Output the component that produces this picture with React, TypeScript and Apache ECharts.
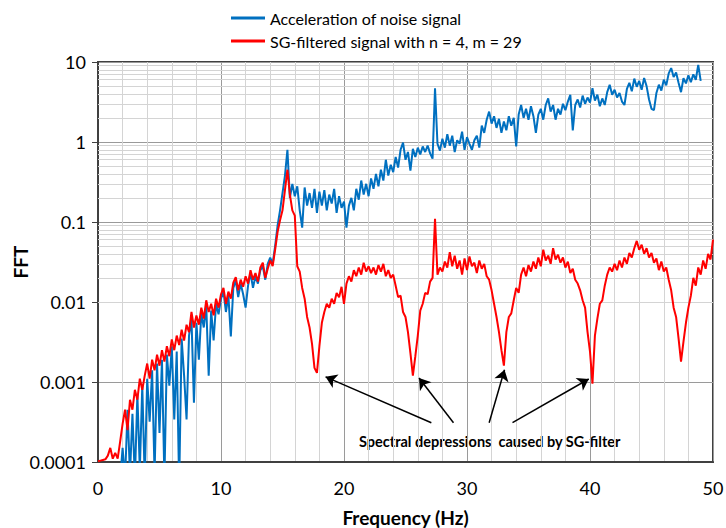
import React, { useEffect, useRef } from 'react';
import * as echarts from 'echarts';

const SERIES_NAMES = ['Acceleration of noise signal', 'SG-filtered signal with n = 4, m = 29'];
const SERIES_COLORS = ['#0070C0', '#FF0000'];
const FREQ_STEP = 0.2;

// Blue: acceleration of noise signal, bins from 1.8 Hz to 49.0 Hz (0.2 Hz apart)
const BLUE_START = 1.8;
const BLUE_FFT = [
  0.00006, 0.00015, 0.00006, 0.00045, 0.00007, 0.0004, 0.00006, 0.0007, 0.00008, 0.0009, 0.00006,
  0.0011, 0.00032, 0.0014, 0.00007, 0.0017, 0.00023, 0.0019, 0.00006, 0.0022, 0.0009,
  0.0028, 0.00034, 0.0024, 0.00005, 0.0035, 0.0012, 0.00034, 0.0038, 0.0062, 0.00055,
  0.0055, 0.0019, 0.0072, 0.0048, 0.009, 0.0012, 0.0078, 0.0033, 0.0095, 0.007,
  0.011, 0.0135, 0.0075, 0.012, 0.0037, 0.015, 0.0185, 0.0115, 0.017, 0.0125,
  0.0085, 0.016, 0.023, 0.015, 0.021, 0.017, 0.025, 0.028, 0.019, 0.03,
  0.036, 0.03, 0.05, 0.09, 0.14, 0.23, 0.38, 0.8, 0.2, 0.3,
  0.21, 0.28, 0.14, 0.085, 0.27, 0.16, 0.23, 0.15, 0.26, 0.13,
  0.24, 0.16, 0.25, 0.14, 0.22, 0.17, 0.26, 0.13, 0.21, 0.15,
  0.18, 0.085, 0.16, 0.2, 0.14, 0.26, 0.19, 0.33, 0.22, 0.3,
  0.21, 0.35, 0.26, 0.4, 0.28, 0.45, 0.33, 0.6, 0.38, 0.52,
  0.42, 0.65, 0.48, 0.8, 0.98, 0.6, 0.75, 0.44, 0.82, 0.65,
  0.85, 0.7, 0.88, 0.75, 0.9, 0.72, 0.62, 4.7, 0.95, 0.78,
  1.1, 0.85, 1.25, 0.9, 1.2, 0.75, 1.05, 0.95, 1.35, 0.8,
  1.15, 0.95, 0.8, 1.05, 1.2, 0.85, 1.6, 1.3, 1.9, 2.4,
  1.7, 2.1, 1.5, 1.95, 1.3, 1.8, 1.4, 2.1, 1.6, 2.0,
  0.88, 2.2, 2.9, 2.0, 2.6, 1.9, 2.8, 2.1, 1.3, 2.2,
  2.6, 1.9, 2.9, 3.5, 2.4, 2.9, 1.9, 2.6, 2.2, 3.0,
  2.5, 3.2, 3.9, 1.4, 2.9, 3.4, 2.7, 3.8, 3.0, 3.6,
  3.1, 4.7, 3.3, 3.9, 2.8, 3.5, 2.9, 4.2, 5.2, 3.9,
  4.5, 3.6, 4.1, 3.2, 2.9, 4.6, 5.5, 4.3, 6.2, 4.9,
  5.8, 4.5, 6.3, 5.0, 3.4, 2.6, 2.5, 4.1, 5.2, 4.4,
  6.0, 5.1, 7.2, 8.4, 6.5, 7.4, 5.5, 4.2, 6.3, 5.4,
  6.8, 5.6, 7.0, 6.0, 9.2, 5.8,
];

// Red: SG-filtered signal, bins from 0 Hz to 50 Hz (0.2 Hz apart)
const RED_START = 0;
const RED_FFT = [
  0.000102, 0.000104, 0.000106, 0.000108, 0.00012, 0.00015, 0.00011, 0.00013, 0.00011, 0.00018,
  0.0003, 0.00045, 0.00025, 0.0006, 0.00045, 0.0008, 0.0006, 0.0011, 0.0008, 0.0012,
  0.0017, 0.0011, 0.0019, 0.0014, 0.0022, 0.0016, 0.0025, 0.0018, 0.0028, 0.0021,
  0.0034, 0.0025, 0.0038, 0.0029, 0.0045, 0.0033, 0.0052, 0.0042, 0.0075, 0.0048,
  0.0068, 0.0052, 0.0085, 0.0062, 0.0105, 0.0075, 0.0095, 0.0068, 0.011, 0.0085,
  0.0125, 0.015, 0.0095, 0.0135, 0.011, 0.0175, 0.0205, 0.014, 0.019, 0.0155,
  0.021, 0.017, 0.025, 0.019, 0.023, 0.018, 0.027, 0.031, 0.02, 0.026,
  0.033, 0.028, 0.045, 0.075, 0.105, 0.14, 0.25, 0.45, 0.22, 0.14,
  0.12, 0.028, 0.024, 0.015, 0.011, 0.0065, 0.0048, 0.003, 0.0015, 0.0013,
  0.0028, 0.0055, 0.0075, 0.0095, 0.0085, 0.011, 0.0095, 0.013, 0.0115, 0.0155,
  0.0095, 0.017, 0.021, 0.018, 0.025, 0.021, 0.027, 0.022, 0.031, 0.024,
  0.028, 0.023, 0.027, 0.022, 0.029, 0.024, 0.03, 0.021, 0.025, 0.02,
  0.022, 0.016, 0.0115, 0.012, 0.0075, 0.0065, 0.0042, 0.0023, 0.0012, 0.0021,
  0.0038, 0.0078, 0.0095, 0.013, 0.0125, 0.018, 0.02, 0.11, 0.022, 0.027,
  0.024, 0.032, 0.027, 0.042, 0.028, 0.038, 0.026, 0.033, 0.022, 0.035,
  0.025, 0.037, 0.028, 0.031, 0.023, 0.033, 0.026, 0.03, 0.021, 0.019,
  0.014, 0.0095, 0.0065, 0.0042, 0.0025, 0.0016, 0.0042, 0.0065, 0.0072, 0.0105,
  0.015, 0.013, 0.022, 0.027, 0.021, 0.029, 0.024, 0.032, 0.026, 0.036,
  0.028, 0.045, 0.033, 0.038, 0.03, 0.047, 0.034, 0.039, 0.031, 0.036,
  0.027, 0.032, 0.023, 0.026, 0.019, 0.017, 0.014, 0.0105, 0.0085, 0.0042,
  0.0024, 0.00095, 0.0038, 0.0062, 0.0095, 0.0105, 0.016, 0.022, 0.027, 0.024,
  0.03, 0.025, 0.033, 0.027, 0.036, 0.03, 0.041, 0.036, 0.047, 0.058,
  0.045, 0.052, 0.04, 0.047, 0.036, 0.041, 0.031, 0.035, 0.025, 0.032,
  0.024, 0.027, 0.019, 0.014, 0.0085, 0.0065, 0.0035, 0.0018, 0.0032, 0.0055,
  0.0085, 0.012, 0.02, 0.016, 0.027, 0.022, 0.033, 0.026, 0.04, 0.034, 0.06,
];

const Y_TICK_LABELS = ['0.0001', '0.001', '0.01', '0.1', '1', '10'];
const Y_MIN = 0.0001;
const Y_MAX = 10;
const X_MIN = 0;
const X_MAX = 50;
const X_INTERVAL = 10;
const X_TITLE = 'Frequency (Hz)';
const Y_TITLE = 'FFT';
const NOTE_TEXT = 'Spectral depressions  caused by SG-filter';
// Annotation arrows (data coordinates): tail -> head
const ARROW_TAILS = [[27.1, 0.00031], [28.9, 0.00031], [31.8, 0.00031], [33.7, 0.00031]];
const ARROW_HEADS = [[18.5, 0.00116], [26.1, 0.00112], [33.05, 0.00142], [39.9, 0.00109]];
const LOG_MINOR_MULTIPLIERS = [2, 3, 4, 5, 6, 7, 8, 9];
const LOG_DECADES = [0.0001, 0.001, 0.01, 0.1, 1];

const FONT = 'Lato, "Open Sans", sans-serif';
const LEGEND_ICON = 'path://M0,0L34,0L34,3L0,3Z';

function toPairs(start: number, values: number[]) {
  return values.map((v, i) => [Math.round((start + i * FREQ_STEP) * 10) / 10, v]);
}

export default function App() {
  const ref = useRef<HTMLDivElement>(null);
  useEffect(() => {
    if (!ref.current) return;
    const chart = echarts.init(ref.current, null, { renderer: 'svg' });
    const minorGrid: any[] = [];
    LOG_DECADES.forEach((d) => LOG_MINOR_MULTIPLIERS.forEach((m) => minorGrid.push({ yAxis: m * d })));
    const arrows = ARROW_TAILS.map((t, i) => [{ coord: t }, { coord: ARROW_HEADS[i] }]);

    chart.setOption({
      animation: false,
      textStyle: { fontFamily: FONT },
      grid: {
        left: 98,
        right: 13,
        top: 62,
        bottom: 66,
        containLabel: false,
        outerBoundsMode: 'none',
        show: true,
        borderColor: '#404040',
        borderWidth: 2,
        backgroundColor: 'transparent',
      },
      legend: {
        orient: 'vertical',
        left: 226,
        top: 5,
        itemWidth: 34,
        itemHeight: 14,
        itemGap: 7,
        textStyle: { fontSize: 16, color: '#000', fontFamily: FONT },
        data: SERIES_NAMES.map((name) => ({ name, icon: LEGEND_ICON })),
      },
      xAxis: {
        type: 'value',
        min: X_MIN,
        max: X_MAX,
        interval: X_INTERVAL,
        name: X_TITLE,
        nameLocation: 'middle',
        nameGap: 46,
        nameMoveOverlap: false,
        nameTextStyle: { fontSize: 19, fontWeight: 'bold', color: '#000', fontFamily: FONT },
        axisLine: { show: true, onZero: false, lineStyle: { color: '#404040', width: 2 } },
        axisTick: { show: false },
        axisLabel: { fontSize: 18, color: '#000', margin: 17, fontFamily: FONT },
        splitLine: { show: true, lineStyle: { color: '#9a9a9a', width: 1 } },
        minorTick: { show: false, splitNumber: 5 },
        minorSplitLine: { show: true, lineStyle: { color: '#d4d4d4', width: 1 } },
      },
      yAxis: {
        type: 'log',
        logBase: 10,
        min: Y_MIN,
        max: Y_MAX,
        name: Y_TITLE,
        nameLocation: 'middle',
        nameGap: 68,
        nameMoveOverlap: false,
        nameTextStyle: { fontSize: 19, fontWeight: 'bold', color: '#000', fontFamily: FONT },
        axisLine: { show: true, lineStyle: { color: '#404040', width: 2 } },
        axisTick: { show: true, length: 6, lineStyle: { color: '#404040', width: 1 } },
        axisLabel: {
          fontSize: 18,
          color: '#000',
          margin: 12,
          fontFamily: FONT,
          formatter: (v: number) => Y_TICK_LABELS[Math.round(Math.log10(v)) + 4] ?? '',
        },
        splitLine: { show: true, lineStyle: { color: '#9a9a9a', width: 1 } },
      },
      graphic: [
        {
          type: 'text',
          left: 359,
          top: 434,
          style: { text: NOTE_TEXT, font: `bold 14.5px ${FONT}`, fill: '#000' },
        },
      ],
      series: [
        {
          name: '__minorgrid',
          type: 'line',
          data: [],
          silent: true,
          markLine: {
            silent: true,
            z: 1,
            symbol: 'none',
            label: { show: false },
            emphasis: { disabled: true },
            lineStyle: { color: '#d4d4d4', width: 1, type: 'solid' },
            data: minorGrid,
          },
        },
        {
          name: SERIES_NAMES[0],
          type: 'line',
          data: toPairs(BLUE_START, BLUE_FFT),
          showSymbol: false,
          symbol: 'none',
          color: SERIES_COLORS[0],
          lineStyle: { color: SERIES_COLORS[0], width: 2 },
          clip: true,
          z: 3,
        },
        {
          name: SERIES_NAMES[1],
          type: 'line',
          data: toPairs(RED_START, RED_FFT),
          showSymbol: false,
          symbol: 'none',
          color: SERIES_COLORS[1],
          lineStyle: { color: SERIES_COLORS[1], width: 2 },
          clip: true,
          z: 4,
        },
        {
          name: '__arrows',
          type: 'line',
          data: [],
          silent: true,
          markLine: {
            silent: true,
            z: 6,
            symbol: ['none', 'arrow'],
            symbolSize: 11,
            label: { show: false },
            emphasis: { disabled: true },
            lineStyle: { color: '#000', width: 1.5, type: 'solid' },
            data: arrows,
          },
        },
      ],
    });
    return () => chart.dispose();
  }, []);
  return <div ref={ref} style={{ position: 'absolute', left: 0, top: 0, width: 726, height: 528 }} />;
}
